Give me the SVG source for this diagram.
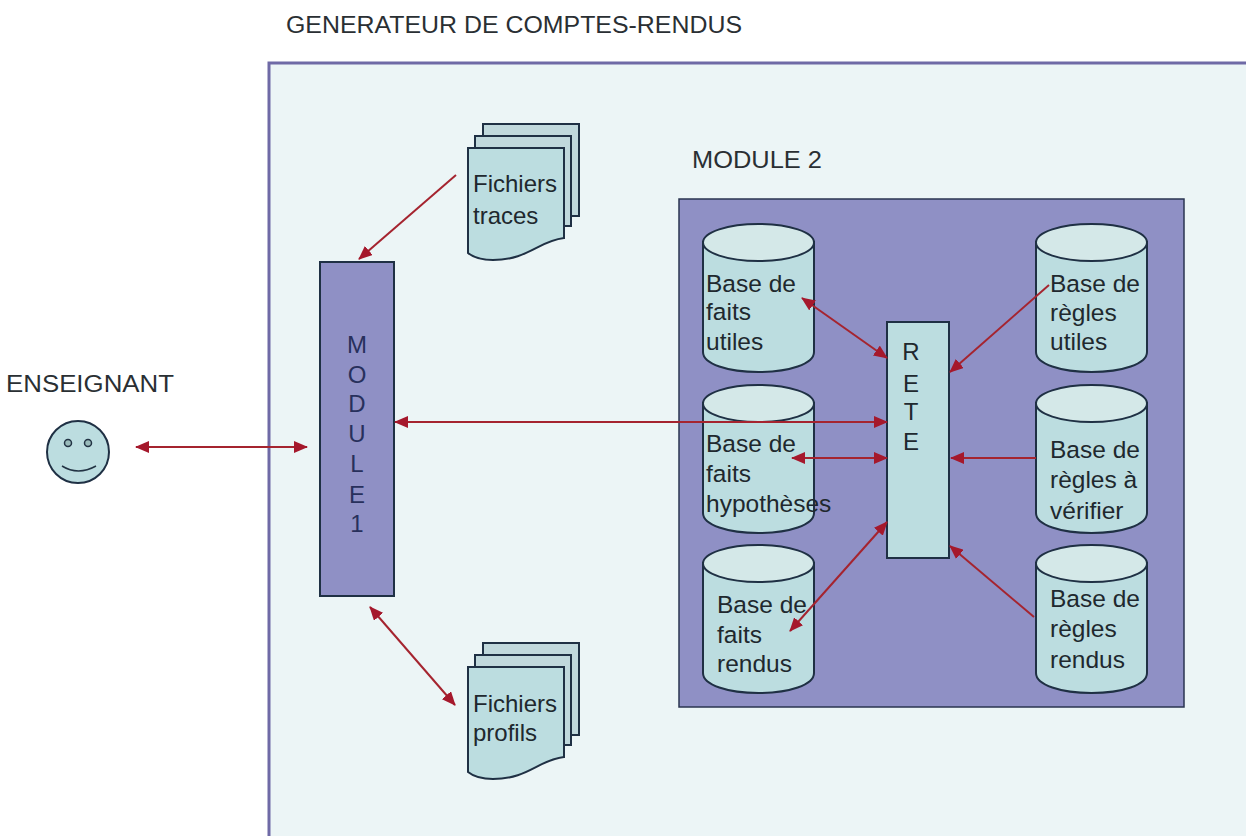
<svg xmlns="http://www.w3.org/2000/svg" width="1246" height="836" viewBox="0 0 1246 836">
<style>
text{font-family:"Liberation Sans",Arial,sans-serif;font-size:24.500px;fill:#20282e}
.h{font-size:23px;fill:#2a2f33}
.m{font-size:24px;fill:#28305c}
.s{stroke:#1f3044;stroke-width:2}
.f{fill:#bcdde0}
.t{fill:#d4e8e8}
.c{stroke:#a5242f;stroke-width:2;fill:none;marker-start:url(#a);marker-end:url(#a)}
.o{stroke:#a5242f;stroke-width:2;fill:none;marker-end:url(#a)}
</style>
<defs>
<marker id="a" viewBox="0 0 14 12" refX="13" refY="6" markerWidth="14" markerHeight="12" markerUnits="userSpaceOnUse" orient="auto-start-reverse"><path d="M0 0L14 6L0 12Z" fill="#a5182c"/></marker>
<g id="cyl"><path class="s f" d="M0 18V128C0 140 25 148 55.500 148S111 140 111 128V18Z"/><ellipse class="s t" cx="55.500" cy="18.500" rx="55.500" ry="18.500"/></g>
<g id="doc"><path class="s" fill="#c0d8dc" d="M15 -24H111V68H15Z"/><path class="s" fill="#c0d8dc" d="M7 -12H103V78H7Z"/><path class="s f" d="M0 0H96V90C70 93 60 112 25 112C12 112 5 109 0 105Z"/></g>
</defs>
<rect width="1246" height="836" fill="#fff"/>
<g id="frame"><path d="M269 836V63H1246V836Z" fill="#ecf5f6"/><path d="M269 836V63H1246" fill="none" stroke="#6f6aa6" stroke-width="3"/></g>
<text class="h" x="286" y="33" textLength="456" lengthAdjust="spacingAndGlyphs">GENERATEUR DE COMPTES-RENDUS</text>
<text class="h" x="6" y="392" textLength="168" lengthAdjust="spacingAndGlyphs">ENSEIGNANT</text>
<text class="h" x="692" y="168" textLength="130" lengthAdjust="spacingAndGlyphs">MODULE 2</text>
<g id="module2"><rect x="679" y="199" width="505" height="508" fill="#8f90c5" stroke="#2a3550" stroke-width="1.500"/></g>
<g id="enseignant"><circle cx="78" cy="452" r="31" class="s f"/><circle cx="68" cy="443" r="3.500" fill="#9bb" stroke="#234" stroke-width="1.500"/><circle cx="88" cy="443" r="3.500" fill="#9bb" stroke="#234" stroke-width="1.500"/><path d="M62 466Q78 476 96 466" fill="none" stroke="#234" stroke-width="1.500"/></g>
<g id="module1"><rect x="320" y="262" width="74" height="334" fill="#8f90c5" stroke="#1f3044" stroke-width="2"/>
<text class="m" x="357" y="353" text-anchor="middle">M</text><text class="m" x="357" y="383" text-anchor="middle">O</text><text class="m" x="357" y="412" text-anchor="middle">D</text><text class="m" x="357" y="442" text-anchor="middle">U</text><text class="m" x="357" y="472" text-anchor="middle">L</text><text class="m" x="357" y="503" text-anchor="middle">E</text><text class="m" x="357" y="532" text-anchor="middle">1</text></g>
<g id="traces"><use href="#doc" x="468" y="148"/><text x="473" y="192" style="font-size:24px">Fichiers</text><text x="473" y="224" style="font-size:24px">traces</text></g>
<g id="profils"><use href="#doc" x="468" y="667"/><text x="473" y="712" style="font-size:24px">Fichiers</text><text x="473" y="741" style="font-size:24px">profils</text></g>
<g id="fu"><use href="#cyl" x="703" y="224"/><text x="706" y="292">Base de</text><text x="706" y="320">faits</text><text x="706" y="350">utiles</text></g>
<g id="fh"><use href="#cyl" x="703" y="385"/><text x="706" y="452">Base de</text><text x="706" y="482">faits</text><text x="706" y="512">hypothèses</text></g>
<g id="fr"><use href="#cyl" x="703" y="545"/><text x="717" y="613">Base de</text><text x="717" y="643">faits</text><text x="717" y="672">rendus</text></g>
<g id="ru"><use href="#cyl" x="1036" y="224"/><text x="1050" y="292">Base de</text><text x="1050" y="321">règles</text><text x="1050" y="350">utiles</text></g>
<g id="rv"><use href="#cyl" x="1036" y="385"/><text x="1050" y="458">Base de</text><text x="1050" y="488">règles à</text><text x="1050" y="519">vérifier</text></g>
<g id="rr"><use href="#cyl" x="1036" y="545"/><text x="1050" y="607">Base de</text><text x="1050" y="637">règles</text><text x="1050" y="668">rendus</text></g>
<g id="rete"><rect x="887" y="322" width="62" height="236" class="s f"/><text class="m" x="911" y="360" text-anchor="middle" style="fill:#20282e">R</text><text class="m" x="911" y="392" text-anchor="middle" style="fill:#20282e">E</text><text class="m" x="911" y="420" text-anchor="middle" style="fill:#20282e">T</text><text class="m" x="911" y="450" text-anchor="middle" style="fill:#20282e">E</text></g>
<g id="connectors">
<path class="c" d="M136 447H307"/>
<path class="c" d="M395 422H887"/>
<path class="o" d="M456 175L359 259"/>
<path class="c" d="M370 607L455 705"/>
<path class="c" d="M802 298L887 358"/>
<path class="c" d="M792 458H887"/>
<path class="c" d="M790 631L887 522"/>
<path class="o" d="M1049 285L950 372"/>
<path class="o" d="M1036 458H951"/>
<path class="o" d="M1034 617L950 546"/>
</g>
</svg>
